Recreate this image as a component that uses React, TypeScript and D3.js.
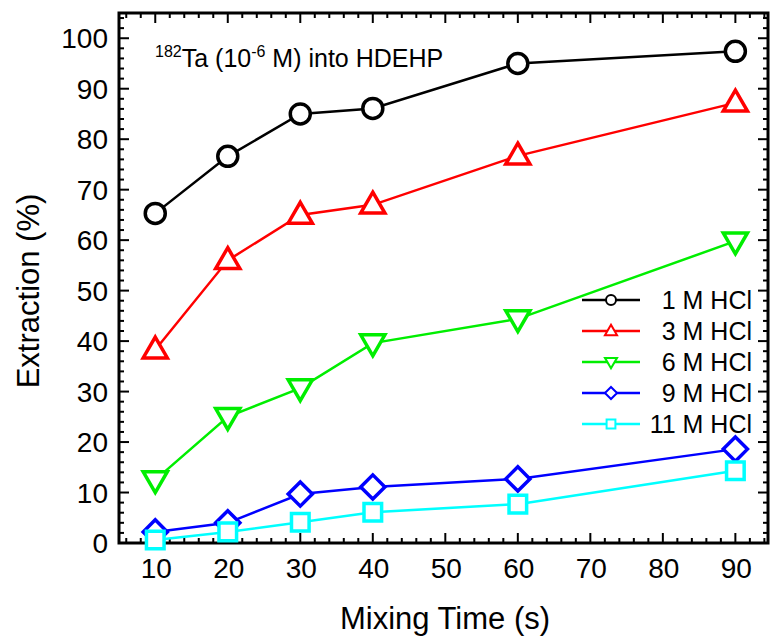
import React, { useRef, useEffect } from "react";
import * as d3 from "d3";

// mixing times (s)
const times = [10, 20, 30, 40, 60, 90];

const hcl1 = [65.3, 76.6, 85.0, 86.1, 95.0, 97.4];
const hcl3 = [38.3, 56.0, 65.0, 67.0, 76.7, 87.2];
const hcl6 = [12.5, 25.0, 30.7, 39.6, 44.4, 59.8];
const hcl9 = [2.2, 4.0, 9.7, 11.1, 12.7, 18.6];
const hcl11 = [0.6, 2.2, 4.1, 6.1, 7.7, 14.3];

const seriesNames = ["1 M HCl", "3 M HCl", "6 M HCl", "9 M HCl", "11 M HCl"];
const seriesValues = [hcl1, hcl3, hcl6, hcl9, hcl11];
const seriesColors = ["#000000", "#ff0000", "#00ee00", "#0000ff", "#00ffff"];
const seriesShapes = ["circle", "up", "down", "diamond", "square"];

const xTicks = [10, 20, 30, 40, 50, 60, 70, 80, 90];
const yTicks = [0, 10, 20, 30, 40, 50, 60, 70, 80, 90, 100];

const FONT = "Liberation Sans, Arial, Helvetica, sans-serif";

function markerPath(shape: string, s: number) {
  // s = half size
  if (shape === "up") {
    return `M0,${-s * 1.15}L${s * 1.1},${s * 0.75}L${-s * 1.1},${s * 0.75}Z`;
  }
  if (shape === "down") {
    return `M0,${s * 1.15}L${s * 1.1},${-s * 0.75}L${-s * 1.1},${-s * 0.75}Z`;
  }
  if (shape === "diamond") {
    return `M0,${-s * 1.1}L${s * 1.1},0L0,${s * 1.1}L${-s * 1.1},0Z`;
  }
  return `M${-s * 0.8},${-s * 0.8}H${s * 0.8}V${s * 0.8}H${-s * 0.8}Z`;
}

function drawMarker(g: any, shape: string, cx: number, cy: number, s: number, color: string, sw: number) {
  if (shape === "circle") {
    g.append("circle")
      .attr("cx", cx)
      .attr("cy", cy)
      .attr("r", s)
      .attr("fill", "white")
      .attr("stroke", color)
      .attr("stroke-width", sw);
  } else {
    g.append("path")
      .attr("d", markerPath(shape, s))
      .attr("transform", `translate(${cx},${cy})`)
      .attr("fill", "white")
      .attr("stroke", color)
      .attr("stroke-width", sw)
      .attr("stroke-linejoin", "miter");
  }
}

export default function App() {
  const svgRef = useRef<SVGSVGElement>(null);

  useEffect(() => {
    drawChart();
  }, []);

  function drawChart() {
    const svg = d3.select(svgRef.current);
    svg.selectAll("*").remove();

    const left = 119, right = 768, top = 13, bottom = 543;

    const xScale = d3.scaleLinear().domain([5, 94.5]).range([left, right]);
    const yScale = d3.scaleLinear().domain([0, 105]).range([bottom, top]);

    svg.append("rect").attr("width", 775).attr("height", 638).attr("fill", "white");

    // minor / major ticks, all pointing inward
    const ticks = svg.append("g").attr("stroke", "black").attr("stroke-width", 2);
    d3.range(6, 95, 2).forEach((v) => {
      const len = v % 10 === 0 ? 10 : 5;
      const x = xScale(v);
      ticks.append("line").attr("x1", x).attr("x2", x).attr("y1", bottom).attr("y2", bottom - len);
      ticks.append("line").attr("x1", x).attr("x2", x).attr("y1", top).attr("y2", top + len);
    });
    d3.range(2, 105, 2).forEach((v) => {
      const len = v % 10 === 0 ? 10 : 5;
      const y = yScale(v);
      ticks.append("line").attr("x1", left).attr("x2", left + len).attr("y1", y).attr("y2", y);
      ticks.append("line").attr("x1", right).attr("x2", right - len).attr("y1", y).attr("y2", y);
    });

    // frame
    svg
      .append("rect")
      .attr("x", left)
      .attr("y", top)
      .attr("width", right - left)
      .attr("height", bottom - top)
      .attr("fill", "none")
      .attr("stroke", "black")
      .attr("stroke-width", 3);

    // tick labels
    svg
      .append("g")
      .selectAll("text")
      .data(xTicks)
      .join("text")
      .attr("x", (d) => xScale(d) + 1)
      .attr("y", 578)
      .attr("text-anchor", "middle")
      .attr("font-family", FONT)
      .attr("font-size", 28)
      .text((d) => d);

    svg
      .append("g")
      .selectAll("text")
      .data(yTicks)
      .join("text")
      .attr("x", 108)
      .attr("y", (d) => yScale(d) + 10)
      .attr("text-anchor", "end")
      .attr("font-family", FONT)
      .attr("font-size", 28)
      .text((d) => d);

    // axis titles
    svg
      .append("text")
      .attr("x", 445)
      .attr("y", 629)
      .attr("text-anchor", "middle")
      .attr("font-family", FONT)
      .attr("font-size", 31)
      .text("Mixing Time (s)");

    svg
      .append("text")
      .attr("transform", `translate(39,291) rotate(-90)`)
      .attr("text-anchor", "middle")
      .attr("font-family", FONT)
      .attr("font-size", 31)
      .text("Extraction (%)");

    // annotation
    const ann = svg
      .append("text")
      .attr("x", 155)
      .attr("y", 67)
      .attr("font-family", FONT)
      .attr("font-size", 25);
    ann.append("tspan").attr("font-size", 16).attr("dy", -10).text("182");
    ann.append("tspan").attr("dy", 10).text("Ta (10");
    ann.append("tspan").attr("font-size", 16).attr("dy", -10).text("-6");
    ann.append("tspan").attr("dy", 10).text(" M) into HDEHP");

    // series
    const line = d3
      .line<number>()
      .x((d, i) => xScale(times[i]))
      .y((d) => yScale(d));

    seriesValues.forEach((vals, k) => {
      const g = svg.append("g");
      g.append("path")
        .datum(vals)
        .attr("fill", "none")
        .attr("stroke", seriesColors[k])
        .attr("stroke-width", 2.5)
        .attr("d", line);
      vals.forEach((v, i) => {
        drawMarker(g, seriesShapes[k], xScale(times[i]), yScale(v), seriesShapes[k] === "circle" ? 10 : 11, seriesColors[k], 3.5);
      });
    });

    // legend
    const legend = svg.append("g");
    seriesNames.forEach((name, k) => {
      const y = 300 + k * 31;
      legend
        .append("line")
        .attr("x1", 582)
        .attr("x2", 640)
        .attr("y1", y)
        .attr("y2", y)
        .attr("stroke", seriesColors[k])
        .attr("stroke-width", 2.5);
      drawMarker(legend, seriesShapes[k], 611, y, seriesShapes[k] === "circle" ? 5 : 5.5, seriesColors[k], 2);
      legend
        .append("text")
        .attr("x", 752)
        .attr("y", y + 9)
        .attr("text-anchor", "end")
        .attr("font-family", FONT)
        .attr("font-size", 25)
        .text(name);
    });
  }

  return (
    <div style={{ position: "absolute", left: 0, top: 0 }}>
      <svg ref={svgRef} width={775} height={638} />
    </div>
  );
}
